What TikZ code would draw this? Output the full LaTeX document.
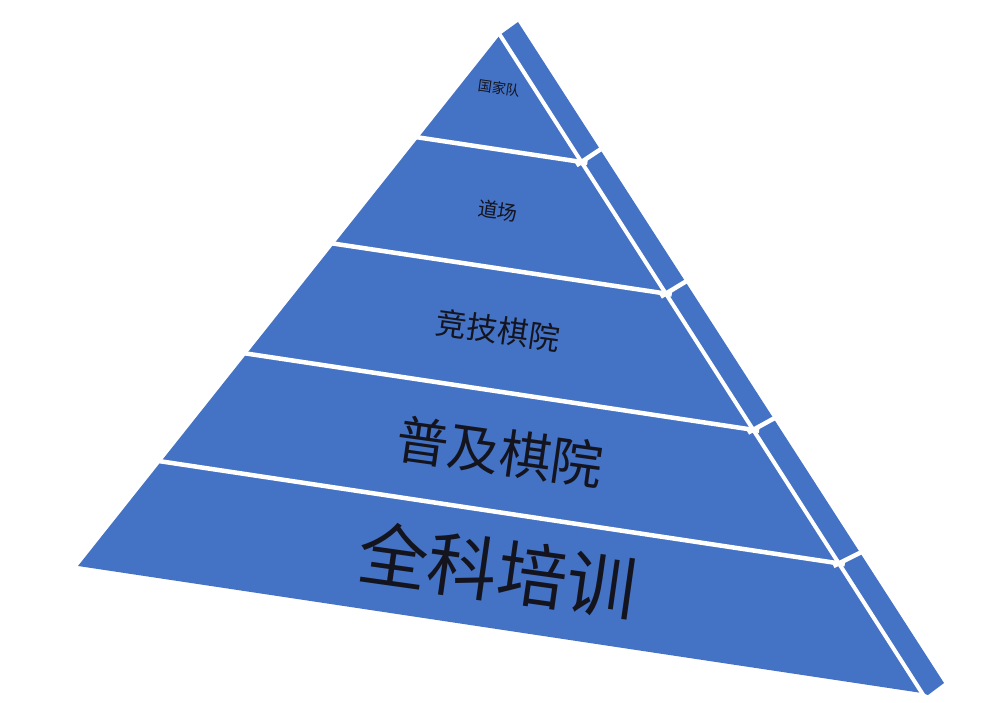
\documentclass[tikz,border=0pt]{standalone}
\usepackage{fontspec}
\newfontfamily\cjk{Noto Sans CJK SC}
\usetikzlibrary{calc}
\definecolor{pyrblue}{RGB}{68,114,196}
\definecolor{inkdark}{RGB}{20,20,30}
\tikzstyle{gap}=[white, line width=4.5pt, shorten <=-6pt, shorten >=-6pt]
\tikzstyle{tier}=[inkdark, rotate=-8, inner sep=0pt]
\newcommand{\tierfont}[1]{\cjk\fontsize{#1}{#1}\selectfont}

\begin{document}
\begin{tikzpicture}[x=1pt, y=-1pt]

\useasboundingbox (0,0) rectangle (999,703);

% corners of the pyramid
\coordinate (apex) at (500,35);
\coordinate (botleft) at (78,566);
\coordinate (botright) at (922,693);
\coordinate (sidetop) at (518,22);
\coordinate (sidebot) at (944,683);
\coordinate (sidebase) at (928,695);

\fill[pyrblue] (botleft) -- (apex) -- (sidetop) -- (sidebot) -- (sidebase) -- (botright) -- cycle;

% front / side edge
\draw[white, line width=4pt, shorten <=-7pt, shorten >=-7pt] (apex) -- (botright);

% layers
\foreach \f in {0.193,0.393,0.6,0.803}
{
    \draw[gap] ($(apex)!\f!(botleft)$) -- ($(apex)!\f!(botright)$);
    \draw[gap] ($(apex)!\f!(botright)$) -- ($(sidetop)!\f!(sidebot)$);
}

% texts
\node[tier, font=\tierfont{14}] (guojia) at (499,88) {国家队};
\node[tier, font=\tierfont{20}] (daochang) at (498,211) {道场};
\node[tier, font=\tierfont{31}] (jingji) at (498,330) {竞技棋院};
\node[tier, font=\tierfont{52}] (puji) at (500,452) {普及棋院};
\node[tier, font=\tierfont{70}] (quanke) at (498,570) {全科培训};

\end{tikzpicture}
\end{document}
